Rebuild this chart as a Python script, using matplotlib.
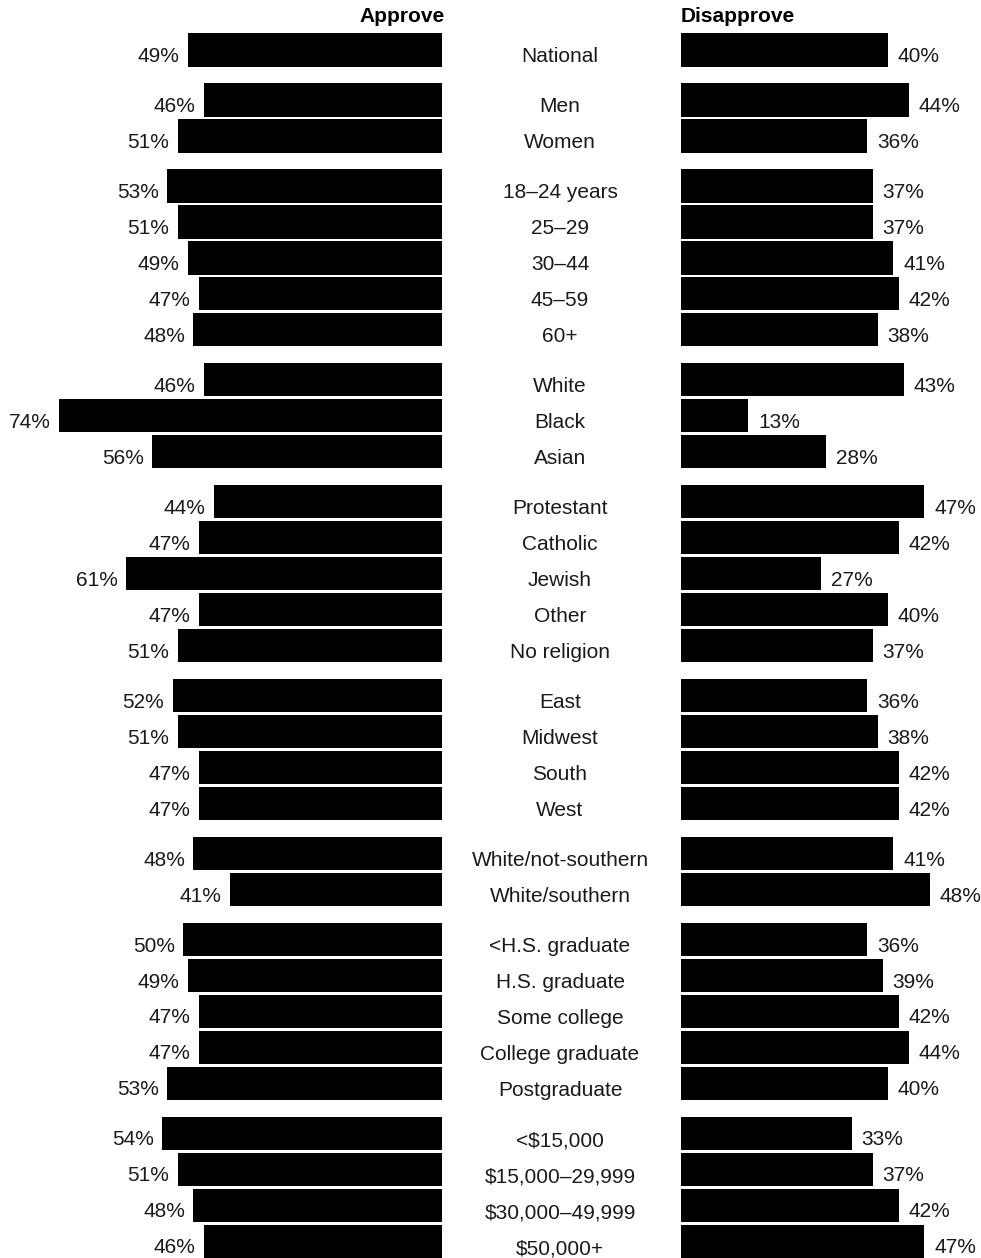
import matplotlib
matplotlib.use("Agg")
import matplotlib.pyplot as plt
import matplotlib.transforms as mtransforms

plt.rcParams['font.family'] = ['Liberation Sans', 'DejaVu Sans']

categories = ["National",
              "Men", "Women",
              "18\u201324 years", "25\u201329", "30\u201344", "45\u201359", "60+",
              "White", "Black", "Asian",
              "Protestant", "Catholic", "Jewish", "Other", "No religion",
              "East", "Midwest", "South", "West",
              "White/not-southern", "White/southern",
              "<H.S. graduate", "H.S. graduate", "Some college", "College graduate", "Postgraduate",
              "<$15,000", "$15,000\u201329,999", "$30,000\u201349,999", "$50,000+"]
group_of = [0,
            1, 1,
            2, 2, 2, 2, 2,
            3, 3, 3,
            4, 4, 4, 4, 4,
            5, 5, 5, 5,
            6, 6,
            7, 7, 7, 7, 7,
            8, 8, 8, 8]
approve = [49,
           46, 51,
           53, 51, 49, 47, 48,
           46, 74, 56,
           44, 47, 61, 47, 51,
           52, 51, 47, 47,
           48, 41,
           50, 49, 47, 47, 53,
           54, 51, 48, 46]
disapprove = [40,
              44, 36,
              37, 37, 41, 42, 38,
              43, 13, 28,
              47, 42, 27, 40, 37,
              36, 38, 42, 42,
              41, 48,
              36, 39, 42, 44, 40,
              33, 37, 42, 47]

W, H = 981, 1258
fig = plt.figure(figsize=(W / 100, H / 100), dpi=100)

GAP = 0.39
ypos = [i + GAP * g for i, g in enumerate(group_of)]
px_per_unit = 35.98
top_px = 50
ylim = ((H - top_px) / px_per_unit, -top_px / px_per_unit)

px_per_pct = 5.18
left_zero = 442
right_zero = 681

axL = fig.add_axes([0, 0, left_zero / W, 1])
axR = fig.add_axes([right_zero / W, 0, (W - right_zero) / W, 1])
axL.set_xlim(left_zero / px_per_pct, 0)
axR.set_xlim(0, (W - right_zero) / px_per_pct)
for ax in (axL, axR):
    ax.set_ylim(*ylim)
    ax.axis('off')

BAR_H = 0.92
FS = 15
TXT = '#1a1a1a'

axL.barh(ypos, approve, height=BAR_H, color='black')
axR.barh(ypos, disapprove, height=BAR_H, color='black')

for y, a, d in zip(ypos, approve, disapprove):
    axL.annotate(f"{a}%", (a, y), xytext=(-6, -4.5), textcoords='offset points',
                 ha='right', va='center', fontsize=FS, color=TXT)
    axR.annotate(f"{d}%", (d, y), xytext=(7, -4.5), textcoords='offset points',
                 ha='left', va='center', fontsize=FS, color=TXT)

trans = mtransforms.blended_transform_factory(fig.transFigure, axL.transData)
for y, c in zip(ypos, categories):
    axL.annotate(c, (560 / W, y), xycoords=trans, xytext=(0, -5),
                 textcoords='offset points', ha='center', va='center',
                 fontsize=FS, color=TXT, annotation_clip=False)

hdr_y = -1.0
axL.annotate("Approve", (0, hdr_y), xytext=(2, -2), textcoords='offset points',
             ha='right', va='center', fontsize=FS, fontweight='bold',
             color='black', annotation_clip=False)
axR.annotate("Disapprove", (0, hdr_y), xytext=(0, -2), textcoords='offset points',
             ha='left', va='center', fontsize=FS, fontweight='bold',
             color='black', annotation_clip=False)

fig.savefig("out.png", dpi=100)
